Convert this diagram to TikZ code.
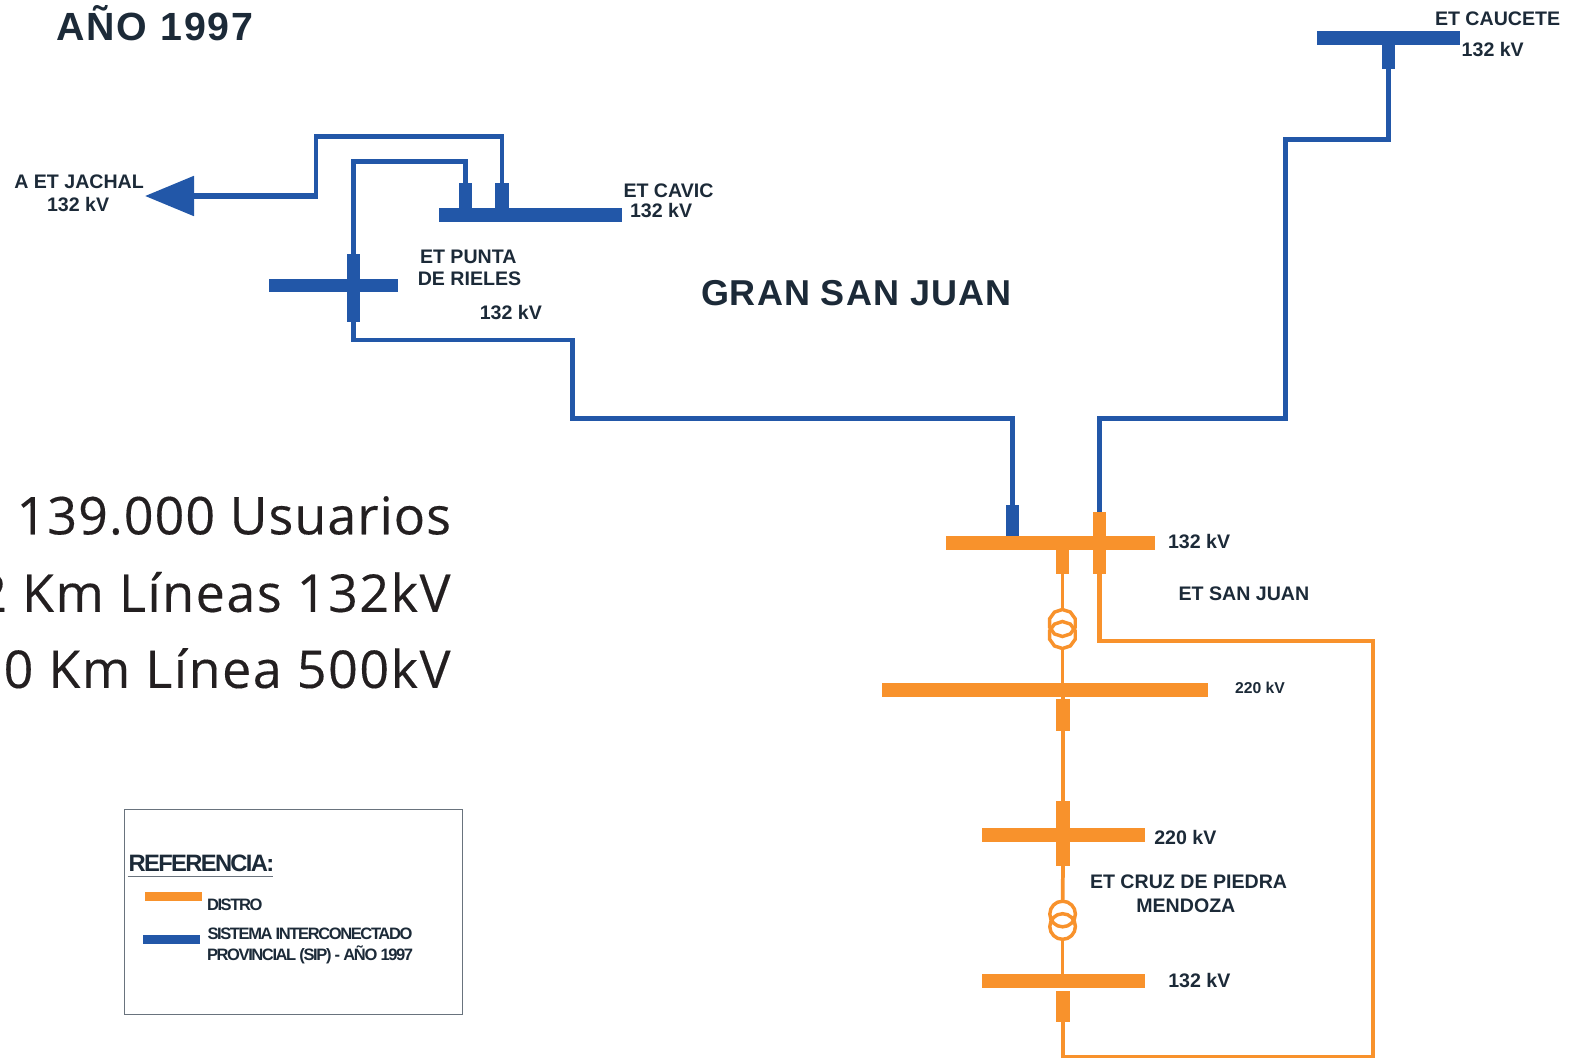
\documentclass[tikz,border=0pt]{standalone}
\usepackage{fontspec}
\setmainfont{Liberation Sans}
\newfontfamily\bigfont[LetterSpace=3,FakeBold=0.25]{Open Sans}
\newfontfamily\bigfontb[LetterSpace=2,FakeBold=0.25]{Open Sans}
\newfontfamily\legfont[LetterSpace=-8.5]{Liberation Sans}
\newfontfamily\reffont[LetterSpace=-7]{Liberation Sans}
\newfontfamily\anofont[LetterSpace=5]{Liberation Sans}
\newfontfamily\gsjfont[LetterSpace=2.8]{Liberation Sans}
\usetikzlibrary{arrows.meta,shapes.geometric}
\definecolor{sipblue}{RGB}{34,87,168}
\definecolor{distroorange}{RGB}{248,146,44}
\definecolor{labelink}{RGB}{28,42,56}
\definecolor{bigink}{RGB}{35,31,32}
\definecolor{boxgray}{RGB}{105,115,125}
\tikzset{
  every picture/.style={line width=0.75pt},
  every node/.style={inner sep=0pt,outer sep=0pt},
  barh/.style={rectangle,minimum width=#1*0.75pt,minimum height=13.6*0.75pt},
  barv/.style={rectangle,minimum height=#1*0.75pt,minimum width=13.4*0.75pt},
  swatch/.style={rectangle,minimum width=56.8*0.75pt,minimum height=8.8*0.75pt},
  lineblue/.style={draw=sipblue,line width=3.6pt},
  lineorange/.style={draw=distroorange,line width=3.6pt},
  linethin/.style={draw=distroorange,line width=2.8pt},
  lbl/.style={anchor=base west,text=labelink,font=\bfseries\fontsize{14.7}{17}\selectfont},
  lblsmall/.style={anchor=base west,text=labelink,font=\bfseries\fontsize{11.8}{14}\selectfont},
  lblleg/.style={anchor=base west,text=labelink,font=\legfont\bfseries\fontsize{12.4}{15}\selectfont},
  lblbig/.style={anchor=base east,text=bigink,font=\bigfont\fontsize{39}{46}\selectfont},
  xfmrpoly/.style={regular polygon,regular polygon sides=10,shape border rotate=18,minimum size=27*0.75pt,draw=distroorange,line width=2.6pt},
  xfmrcirc/.style={circle,minimum size=25.6*0.75pt,draw=distroorange,line width=2.6pt},
}
\begin{document}
\begin{tikzpicture}[x=0.75pt,y=0.75pt,yscale=-1,xscale=1]
\useasboundingbox (0,0) rectangle (1573,1057);

% Bars blue
\node (barcavic) [barh=182.4,fill=sipblue] at (530.5,215) {};
\node (stubcavicw) [barv=25,fill=sipblue] at (465.3,195.8) {};
\node (stubcavice) [barv=25,fill=sipblue] at (502,195.8) {};
\node (barpunta) [barh=128.6,fill=sipblue] at (333.7,285.5) {};
\node (stubpunta) [barv=68,fill=sipblue] at (353.4,288.3) {};
\node (barcaucete) [barh=143,fill=sipblue] at (1388.5,38) {};
\node (stubcaucete) [barv=24.3,fill=sipblue] at (1388.7,56.8) {};
\node (stubsjblue) [barv=31,fill=sipblue] at (1012.4,520.5) {};

% Bars orange
\node (barsjr) [barh=209,fill=distroorange] at (1050,543.2) {};
\node (stubsjrxf) [barv=24.3,fill=distroorange] at (1062.4,562.1) {};
\node (stubsjrline) [barv=62.3,fill=distroorange] at (1099.5,543.2) {};
\node (barsjr220) [barh=326,fill=distroorange] at (1045,689.8) {};
\node (stubsjr220) [barv=31.4,fill=distroorange] at (1063,715) {};
\node (barmza220) [barh=163,fill=distroorange] at (1063.2,834.9) {};
\node (stubmza220) [barv=65.3,fill=distroorange] at (1063,833.4) {};
\node (barmza132) [barh=163,fill=distroorange] at (1063.2,981.2) {};
\node (stubmza132) [barv=31,fill=distroorange] at (1063,1006.5) {};

% Transformers
\node (xfsjra) [xfmrpoly] at (1062.4,623) {};
\node (xfsjrb) [xfmrpoly] at (1062.4,635) {};
\node (xfmzaa) [xfmrcirc] at (1062.6,914) {};
\node (xfmzab) [xfmrcirc] at (1062.6,926.5) {};

\coordinate (jachaltip) at (145,196);
\coordinate (jachalbend) at (318.3,196);
\coordinate (jachalup) at (316,198.6);

%Straight Lines
\draw [lineblue,line width=4pt,{Triangle[length=36.75pt,width=29.25pt]}-] (jachaltip) -- (jachalbend) ;
\draw [lineblue] (jachalup) -- (316,136.5) -- (502,136.5) -- (stubcavice.north) ;
\draw [lineblue] (stubcavicw.north) -- (465.3,161.5) -- (353.4,161.5) -- (stubpunta.north) ;
\draw [lineblue] (stubpunta.south) -- (353.4,340) -- (572.5,340) -- (572.5,418.5) -- (1012.4,418.5) -- (stubsjblue.north) ;
\draw [lineblue] (stubcaucete.south) -- (1388.7,139.5) -- (1285.5,139.5) -- (1285.5,418.5) -- (1099.5,418.5) -- (stubsjrline.north) ;
%Straight Lines
\draw [linethin] (stubsjrxf.south) -- (xfsjra.north) ;
\draw [linethin] (xfsjrb.south) -- (barsjr220.north -| xfsjrb.south) ;
\draw [lineorange] (barsjr220.south -| stubsjr220.north) -- (stubsjr220.north) ;
\draw [lineorange] (stubsjr220.south) -- (stubmza220.north) ;
\draw [linethin] (stubmza220.south) -- (xfmzaa.north) ;
\draw [linethin] (xfmzab.south) -- (barmza132.north -| xfmzab.south) ;
\draw [lineorange] (stubsjrline.south) -- (1099.5,641) -- (1373,641) -- (1373,1057.5) -- (1063,1057.5) -- (stubmza132.south) ;

% Text Node
\node (ttlano) [anchor=base west,text=labelink,font=\anofont\bfseries\fontsize{29.5}{34}\selectfont] at (56,40.5) {AÑO 1997};
\node (ttlgsj) [anchor=base west,text=labelink,font=\gsjfont\bfseries\fontsize{27}{31}\selectfont] at (701,305.7) {GRAN SAN JUAN};
\node (lbljachal) [lbl] at (14.3,188.3) {A ET JACHAL};
\node (lbljachalkv) [lbl] at (47,211) {132 kV};
\node (lblcavic) [lbl] at (623.5,197) {ET CAVIC};
\node (lblcavickv) [lbl] at (630,217.3) {132 kV};
\node (lblpunta) [lbl] at (420,263) {ET PUNTA};
\node (lblrieles) [lbl] at (417.8,285.7) {DE RIELES};
\node (lblpuntakv) [lbl] at (479.8,319) {132 kV};
\node (lblcaucete) [lbl] at (1435,25) {ET CAUCETE};
\node (lblcaucetekv) [lbl] at (1461.7,56) {132 kV};
\node (lblsjrkv) [lbl] at (1168,548.3) {132 kV};
\node (lblsjr) [lbl] at (1178.6,600.3) {ET SAN JUAN};
\node (lblsjr220) [lblsmall] at (1235,693.3) {220 kV};
\node (lblmza220) [lbl] at (1154.3,844) {220 kV};
\node (lblcruz) [lbl] at (1090,888.7) {ET CRUZ DE PIEDRA};
\node (lblmza) [lbl] at (1136.3,912) {MENDOZA};
\node (lblmza132) [lbl] at (1168.3,987.3) {132 kV};

% Text Node
\node (lblusers) [lblbig,font=\bigfontb\fontsize{39}{46}\selectfont] at (451,534.3) {139.000 Usuarios};
\node (lblkm132) [lblbig] at (450.5,611.8) {2 Km Líneas 132kV};
\node (lblkm500) [lblbig] at (450.5,687.9) {0 Km Línea 500kV};

% Legend
\draw [boxgray,line width=1pt] (124.4,809.3) rectangle (462.4,1014.3) ;
\node (lblref) [anchor=base west,text=labelink,font=\reffont\bfseries\fontsize{17.8}{20}\selectfont] at (128.7,871.8) {REFERENCIA:};
\draw [boxgray,line width=1pt] (127.7,876.4) -- (272.7,876.4) ;
\node (swdistro) [swatch,fill=distroorange] at (173.4,896.5) {};
\node (swsip) [swatch,fill=sipblue] at (171.8,939.3) {};
\node (lbldistro) [lblleg] at (207,910) {DISTRO};
\node (lblsip) [lblleg] at (207.5,939.6) {SISTEMA INTERCONECTADO};
\node (lblsipb) [lblleg] at (207,960.4) {PROVINCIAL (SIP) - AÑO 1997};

\end{tikzpicture}
\end{document}
